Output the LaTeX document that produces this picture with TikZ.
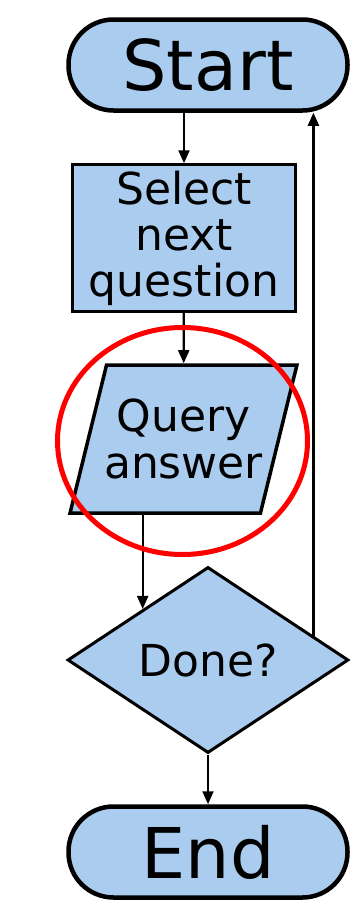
\documentclass[tikz,border=0pt]{standalone}
\usepackage{fontspec}
\setmainfont{DejaVu Sans}
\usetikzlibrary{shapes.geometric, arrows.meta}
\definecolor{boxblue}{RGB}{170,204,238}
\begin{document}
\begin{tikzpicture}[x=1pt, y=-1pt]
    % Define styles
    \tikzset{
        terminal/.style={draw, fill=boxblue, line width=4.5pt, rounded corners=45pt, minimum width=279pt, minimum height=91pt, inner sep=0pt, font=\fontsize{70}{84}\selectfont},
        process/.style={draw, fill=boxblue, line width=2.5pt, minimum width=223pt, minimum height=147pt, inner sep=0pt, align=center, font=\fontsize{44}{46}\selectfont},
        inout/.style={trapezium, trapezium left angle=76, trapezium right angle=104, trapezium stretches body=true, draw, fill=boxblue, line width=3.5pt, minimum width=200pt, minimum height=148pt, inner xsep=-2.5pt, inner ysep=33pt, align=center, font=\fontsize{44}{47}\selectfont},
        decision/.style={diamond, draw, fill=boxblue, line width=3pt, minimum width=281pt, minimum height=186pt, inner sep=0pt, font=\fontsize{44}{46}\selectfont},
        flowarrow/.style={-{Triangle[length=13pt, width=11pt]}, line width=2.2pt},
        highlight/.style={draw=red, line width=5pt}
    }

    \useasboundingbox (0,0) rectangle (362,921);

    % Nodes
    \node[terminal] (start) at (208,65) {Start};
    \node[process] (select) at (184,238) {Select\\next\\question};
    \node[inout] (query) at (183.5,439) {Query\\answer};
    \node[decision] (done) at (208,660) {Done?};
    \node[terminal] (end) at (208,852) {End};

    % Arrows
    \draw[flowarrow] (select |- start.south) -- (select);
    \draw[flowarrow] (select) -- (query);
    \draw[flowarrow] (query.south -| done.142) -- (done.142);
    \draw[flowarrow] (done) -- (end);
    \draw[flowarrow] (done.13.5) -- (done.13.5 |- start.south);

    % Highlight
    \draw[highlight] (182.5,441) ellipse [x radius=125, y radius=113.5];

\end{tikzpicture}
\end{document}
